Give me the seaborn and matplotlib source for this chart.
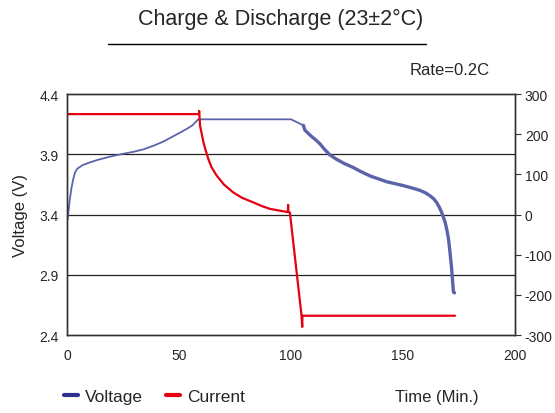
import pandas as pd
import seaborn as sns
import matplotlib.pyplot as plt
from matplotlib.lines import Line2D

# voltage during charge / rest / discharge
time_v = [0, 0.3, 0.8, 1.3, 2.0, 2.8, 3.6, 4.6, 7, 10.3, 14, 19.2, 24, 29.6, 34,
          38.5, 43, 47.5, 51, 53.4, 56, 58.6,
          100, 105.5, 106.2, 109, 111, 113, 115, 117.4, 120, 123.5, 127.8, 131,
          135.3, 142.7, 150.1, 155, 157.6, 160, 162, 163.7, 165, 166.2, 167.2,
          168.8, 169.6, 170.3, 171, 171.7, 172.5, 173]
volt = [3.36, 3.36, 3.45, 3.53, 3.62, 3.695, 3.75, 3.78, 3.81, 3.833, 3.855, 3.88,
        3.90, 3.92, 3.94, 3.97, 4.005, 4.05, 4.085, 4.11, 4.14, 4.19,
        4.19, 4.14, 4.10, 4.05, 4.02, 3.985, 3.94, 3.894, 3.862, 3.826, 3.79, 3.758,
        3.72, 3.672, 3.64, 3.615, 3.60, 3.58, 3.556, 3.53, 3.50, 3.46, 3.42,
        3.335, 3.27, 3.197, 3.08, 2.95, 2.755, 2.75]

# current (mA)
time_i = [0, 58.9, 59.0, 59.4, 60.0, 60.9, 62, 63.1, 64.5, 66.8, 70, 74.2, 78,
          83.2, 87, 90.6, 95, 98.6, 98.7, 98.8, 99.5, 104.7, 105.0, 105.1, 173.2]
curr = [250, 250, 258, 221, 205, 180, 158, 138, 118, 97, 75, 55, 42,
        30, 21, 14, 9.6, 6, 24, 6, 5, -252, -280, -252, -252]

y_ticks_v = [2.4, 2.9, 3.4, 3.9, 4.4]
y_ticks_i = [-300, -200, -100, 0, 100, 200, 300]
x_ticks = [0, 50, 100, 150, 200]

sns.set_style('white')
plt.rcParams['font.family'] = ['Liberation Sans', 'DejaVu Sans']

df_v = pd.DataFrame({'Time': time_v, 'Voltage': volt})
df_i = pd.DataFrame({'Time': time_i, 'Current': curr})

fig = plt.figure(figsize=(5.55, 4.14), dpi=100)
ax = fig.add_axes([0.1207, 0.1884, 0.8073, 0.5821])
ax2 = ax.twinx()

# gridlines at voltage levels
for g in [2.9, 3.4, 3.9]:
    ax.axhline(g, color='#222222', lw=0.9, zorder=0)

# charge part thin, discharge part drawn heavier (dense points in the original)
sns.lineplot(data=df_v[df_v['Time'] <= 105.5], x='Time', y='Voltage', estimator=None,
             sort=False, color='#5b64a8', lw=1.3, ax=ax)
sns.lineplot(data=df_v[df_v['Time'] >= 105.5], x='Time', y='Voltage', estimator=None,
             sort=False, color='#5b64a8', lw=2.4, ax=ax)
sns.lineplot(data=df_i, x='Time', y='Current', estimator=None, sort=False,
             color='#e60012', lw=1.6, ax=ax2)

ax.set_xlim(0, 200)
ax.set_ylim(2.4, 4.4)
ax2.set_ylim(-300, 300)
ax.set_xticks(x_ticks)
ax.set_yticks(y_ticks_v)
ax2.set_yticks(y_ticks_i)
ax.set_xticklabels([str(t) for t in x_ticks], fontsize=10)
ax.set_yticklabels([str(t) for t in y_ticks_v], fontsize=10)
ax2.set_yticklabels([str(t) for t in y_ticks_i], fontsize=10)
ax.tick_params(axis='x', direction='in', length=4, pad=9, color='#333333')
ax.tick_params(axis='y', length=0, pad=6)
ax2.tick_params(axis='y', direction='out', length=4, pad=3, color='#333333')

ax.set_xlabel('')
ax.set_ylabel('Voltage (V)', fontsize=12, labelpad=8)
ax2.set_ylabel('')

for a in [ax, ax2]:
    for s in a.spines.values():
        s.set_color('#333333')
        s.set_linewidth(1.0)

# title with rule underneath
fig.text(0.505, 0.952, 'Charge & Discharge (23\u00b12\u00b0C)', ha='center', va='center', fontsize=15.5)
fig.add_artist(Line2D([108 / 555, 426 / 555], [1 - 45 / 414, 1 - 45 / 414], color='black', lw=1.0))
fig.text(0.883, 0.83, 'Rate=0.2C', ha='right', va='center', fontsize=12)

# legend and axis caption at the bottom
handles = [Line2D([], [], color='#2e3192', lw=3), Line2D([], [], color='#e60012', lw=3)]
fig.legend(handles=handles, labels=['Voltage', 'Current'], loc='center left',
           bbox_to_anchor=(0.088, 0.04), ncol=2, frameon=False, fontsize=12.5,
           handlelength=0.8, handletextpad=0.4, columnspacing=1.3)
fig.text(0.862, 0.04, 'Time (Min.)', ha='right', va='center', fontsize=12)

fig.savefig('out.png', dpi=100)
